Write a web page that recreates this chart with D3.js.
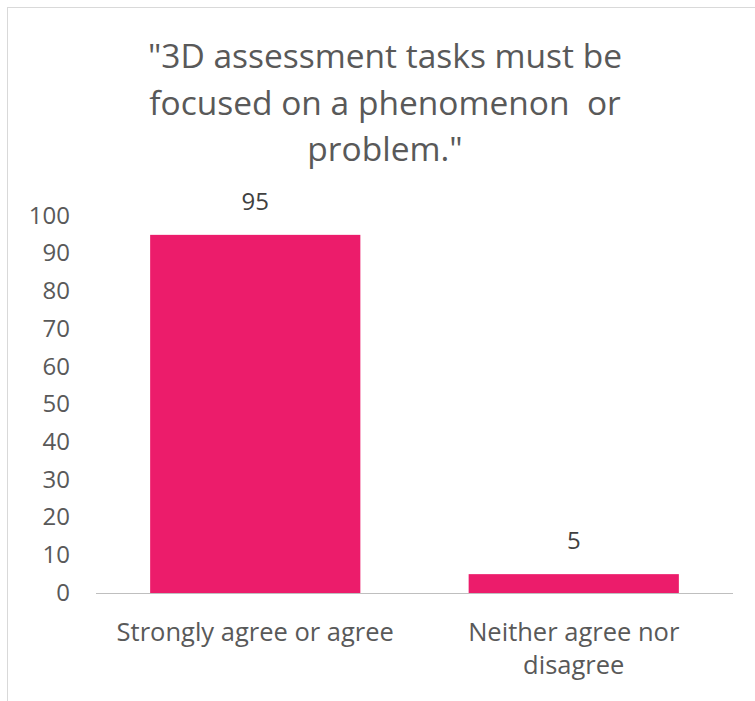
<!DOCTYPE html>
<html>
<head>
<meta charset="utf-8">
<script src="https://cdn.jsdelivr.net/npm/d3@7"></script>
<style>
  html, body { margin: 0; padding: 0; background: #fff; }
  svg text { font-family: "Open Sans", "DejaVu Sans", sans-serif; white-space: pre; }
</style>
</head>
<body>
<svg id="chart" width="755" height="701"></svg>
<script>
// Chart data
const titleLines = ["\"3D assessment tasks must be", "focused on a phenomenon  or", "problem.\""];
const categories = ["Strongly agree or agree", "Neither agree nor disagree"];
const categoryLines = [["Strongly agree or agree"], ["Neither agree nor", "disagree"]];
const values = [95, 5];
const yTicks = [0, 10, 20, 30, 40, 50, 60, 70, 80, 90, 100];

const svg = d3.select("#chart");
const W = 755, H = 701;

// Chart-area frame
svg.append("rect")
  .attr("x", 7.5).attr("y", 7.5)
  .attr("width", W).attr("height", H)
  .attr("fill", "#fff")
  .attr("stroke", "#d9d9d9").attr("stroke-width", 1);

const plot = { left: 96, right: 733, top: 216, bottom: 593 };

const x = d3.scaleBand()
  .domain(categories)
  .range([plot.left, plot.right])
  .paddingInner(0.34)
  .paddingOuter(0.17);

const y = d3.scaleLinear()
  .domain([0, 100])
  .range([plot.bottom, plot.top]);

// Title
const title = svg.append("text")
  .attr("text-anchor", "middle")
  .attr("fill", "#595959")
  .style("font-size", "33.5px");
titleLines.forEach((t, i) => {
  title.append("tspan")
    .attr("x", 385)
    .attr("y", 68 + i * 46.5)
    .text(t);
});

// Y axis labels (no axis line, no ticks)
const yAxis = svg.append("g")
  .attr("transform", `translate(${plot.left - 26},0)`)
  .call(d3.axisLeft(y).tickValues(yTicks).tickSize(0).tickPadding(0));
yAxis.select(".domain").remove();
yAxis.selectAll("text")
  .attr("fill", "#595959")
  .style("font-size", "24px")
  .style("font-family", "\"Open Sans\", sans-serif")
  .attr("dy", "0.3em");

// Bars
svg.append("g").selectAll("rect")
  .data(values)
  .join("rect")
  .attr("x", (d, i) => x(categories[i]))
  .attr("y", d => y(d))
  .attr("width", x.bandwidth())
  .attr("height", d => y(0) - y(d))
  .attr("fill", "#EC1C6B");

// Baseline
svg.append("line")
  .attr("x1", plot.left).attr("x2", plot.right)
  .attr("y1", y(0) + 0.5).attr("y2", y(0) + 0.5)
  .attr("stroke", "#bfbfbf").attr("stroke-width", 1);

// Value labels
svg.append("g").selectAll("text")
  .data(values)
  .join("text")
  .attr("x", (d, i) => x(categories[i]) + x.bandwidth() / 2)
  .attr("y", d => y(d) - 25)
  .attr("text-anchor", "middle")
  .attr("fill", "#404040")
  .style("font-size", "24px")
  .text(d => d);

// Category labels
const catG = svg.append("g");
categoryLines.forEach((lines, i) => {
  const t = catG.append("text")
    .attr("text-anchor", "middle")
    .attr("fill", "#595959")
    .style("font-size", "25.5px");
  lines.forEach((line, j) => {
    t.append("tspan")
      .attr("x", x(categories[i]) + x.bandwidth() / 2)
      .attr("y", 641 + j * 33)
      .text(line);
  });
});
</script>
</body>
</html>
